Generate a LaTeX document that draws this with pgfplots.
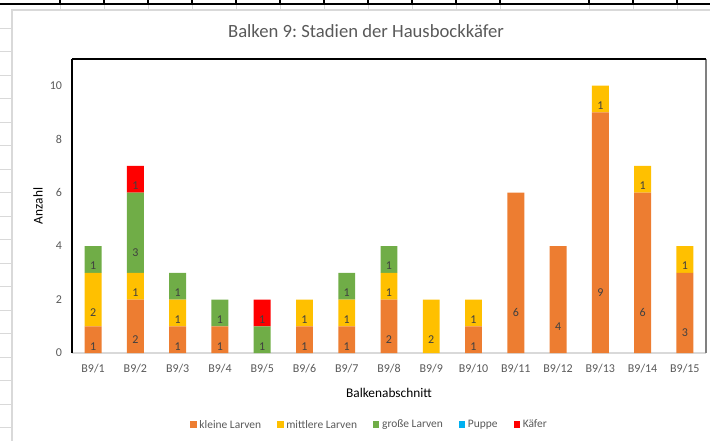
\documentclass[border=0pt]{standalone}
\usepackage{pgfplots}
\pgfplotsset{compat=1.18}
\usepackage{fontspec}
\setmainfont{Carlito}
\frenchspacing
\definecolor{cOrange}{HTML}{ED7D31}
\definecolor{cYellow}{HTML}{FFC000}
\definecolor{cGreen}{HTML}{70AD47}
\definecolor{cBlue}{HTML}{00B0F0}
\definecolor{cRed}{HTML}{FF0000}
\definecolor{txtgray}{HTML}{595959}
\definecolor{lbl}{HTML}{404040}
\definecolor{gridgray}{HTML}{D9D9D9}
\begin{document}
\begin{tikzpicture}
\useasboundingbox (0,0) rectangle (532.5pt,-330.75pt);
% spreadsheet background
\begin{scope}[x=0.75pt,y=-0.75pt]
  \foreach \yy in {28,51.5,75,98.5,122,145.5,169,192.5,216,239.5,263,286.5,310,333.5,357,380.5,404,427.5}
    {\draw[gridgray,line width=0.6pt] (0,\yy) -- (12,\yy);}
  \foreach \xx in {60,104,148,192,236,280,324,368,412,456,500,589,633,677}
    {\draw[black,line width=0.8pt] (\xx,0) -- (\xx,4);
     \draw[gridgray,line width=0.6pt] (\xx,4) -- (\xx,10);}
  \draw[black,line width=1.1pt] (0,4) -- (710,4);
  \draw[gridgray,line width=0.8pt] (12,445) -- (12,10) -- (712,10);
  \node[anchor=base,font=\fontsize{14}{16}\selectfont,text=txtgray] at (366,38) {Balken 9: Stadien der Hausbockkäfer};
\end{scope}
\begin{axis}[
  at={(54pt,-264.75pt)}, anchor=south west,
  scale only axis, width=475.5pt, height=220.5pt,
  ybar stacked, bar width=0.4,
  xmin=-0.5, xmax=14.5, ymin=0, ymax=11,
  xtick={0,...,14},
  xticklabels={B9/1,B9/2,B9/3,B9/4,B9/5,B9/6,B9/7,B9/8,B9/9,B9/10,B9/11,B9/12,B9/13,B9/14,B9/15},
  ytick={0,2,4,6,8,10},
  axis x line*=bottom, axis y line*=left,
  x axis line style={gridgray,line width=0.8pt,-},
  y axis line style={black,line width=0.9pt,-},
  major tick length=0pt,
  clip=false,
  tick label style={font=\fontsize{9}{10}\selectfont,text=txtgray},
  /pgf/number format/assume math mode=true,
  yticklabel style={xshift=-4pt},
  xticklabel style={yshift=-5pt},
  xlabel={Balkenabschnitt}, ylabel={Anzahl},
  label style={font=\fontsize{10}{12}\selectfont,text=txtgray},
  every axis x label/.style={at={(axis description cs:0.5,0)},yshift=-30pt,anchor=center},
  every axis y label/.style={at={(axis description cs:0,0.5)},xshift=-25.5pt,rotate=90,anchor=center},
  legend columns=-1,
  legend style={at={(axis description cs:0.47,-0.245)},anchor=center,draw=none,fill=none,
    font=\fontsize{8.6}{10}\selectfont,text=txtgray,
    /tikz/every even column/.append style={column sep=10pt},
    inner sep=0pt},
  legend image code/.code={\path[#1,draw=none] (0pt,-2.1pt) rectangle (4.8pt,2.7pt);},
  visualization depends on=rawy \as \rawy,
  nodes near coords={\pgfmathparse{\rawy>0.5?1:0}\ifnum\pgfmathresult=1 \pgfmathprintnumber{\rawy}\fi},
  every node near coord/.append style={anchor=center,shift={(axis direction cs:0,-\rawy/4)},
    font=\fontsize{9}{10}\selectfont,text=lbl},
]
\addplot[fill=cOrange,draw=none] coordinates {(0,1) (1,2) (2,1) (3,1) (4,0) (5,1) (6,1) (7,2) (8,0) (9,1) (10,6) (11,4) (12,9) (13,6) (14,3)};
\addplot[fill=cYellow,draw=none] coordinates {(0,2) (1,1) (2,1) (3,0) (4,0) (5,1) (6,1) (7,1) (8,2) (9,1) (10,0) (11,0) (12,1) (13,1) (14,1)};
\addplot[fill=cGreen,draw=none] coordinates {(0,1) (1,3) (2,1) (3,1) (4,1) (5,0) (6,1) (7,1) (8,0) (9,0) (10,0) (11,0) (12,0) (13,0) (14,0)};
\addplot[fill=cBlue,draw=none] coordinates {(0,0) (1,0) (2,0) (3,0) (4,0) (5,0) (6,0) (7,0) (8,0) (9,0) (10,0) (11,0) (12,0) (13,0) (14,0)};
\addplot[fill=cRed,draw=none] coordinates {(0,0) (1,1) (2,0) (3,0) (4,1) (5,0) (6,0) (7,0) (8,0) (9,0) (10,0) (11,0) (12,0) (13,0) (14,0)};
\legend{kleine Larven,mittlere Larven,große Larven,Puppe,Käfer}
\draw[black,line width=0.9pt] (rel axis cs:0,1) -- (rel axis cs:1,1);
\draw[gray,line width=1.2pt] (rel axis cs:1,0) -- (rel axis cs:1,1);
\end{axis}
\end{tikzpicture}
\end{document}
